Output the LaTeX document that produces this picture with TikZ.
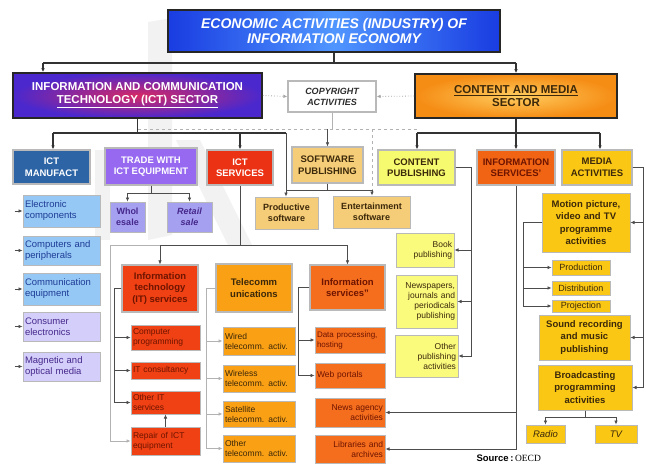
\documentclass[tikz,border=0pt]{standalone}
\usepackage{fontspec}
\setmainfont{Liberation Sans}
\newfontfamily\srcserif{Liberation Serif}
\usepackage{tikz}
\usetikzlibrary{shapes}
\usetikzlibrary{arrows.meta}
\definecolor{titleblue}{RGB}{25,60,225}
\definecolor{titlelight}{RGB}{80,150,255}
\definecolor{ictblue}{RGB}{75,40,205}
\definecolor{ictred}{RGB}{215,40,100}
\definecolor{cmorange}{RGB}{245,140,20}
\definecolor{cmlight}{RGB}{255,205,95}
\definecolor{manufblue}{RGB}{45,100,165}
\definecolor{tradeviolet}{RGB}{150,105,240}
\definecolor{ictsred}{RGB}{235,50,20}
\definecolor{swtan}{RGB}{245,205,120}
\definecolor{cpyellow}{RGB}{245,250,110}
\definecolor{isorange}{RGB}{240,100,20}
\definecolor{mediagold}{RGB}{250,200,20}
\definecolor{lightblue}{RGB}{150,200,245}
\definecolor{lavender}{RGB}{212,207,250}
\definecolor{wholviolet}{RGB}{165,160,240}
\definecolor{itred}{RGB}{240,65,20}
\definecolor{telorange}{RGB}{250,160,20}
\definecolor{isubor}{RGB}{245,110,30}
\definecolor{bookyellow}{RGB}{250,250,125}
\definecolor{darktext}{RGB}{60,40,10}
\definecolor{redtext}{RGB}{110,20,0}
\definecolor{bluetext}{RGB}{30,60,150}
\definecolor{violettext}{RGB}{70,40,140}
\definecolor{boxline}{RGB}{185,185,185}
\tikzset{
    headbox/.style = {draw=black!85, line width=1.6pt, align=center, inner sep=1pt, font=\bfseries\fontsize{11.5}{13}\selectfont},
    catbox/.style = {draw=boxline, line width=1.2pt, align=center, inner sep=1pt, font=\bfseries\fontsize{9.5}{11.5}\selectfont},
    subbox/.style = {draw=boxline, line width=1pt, inner xsep=2pt, inner ysep=1pt, text=darktext, font=\fontsize{8.5}{10}\selectfont},
    wh/.style 2 args = {minimum width=#1pt, minimum height=#2pt},
    tw/.style 2 args = {text width=#1pt, minimum height=#2pt},
    bus/.style = {line width=1.1pt, black!80},
    lnk/.style = {semithick, black!70},
    glnk/.style = {semithick, gray!60},
    arr/.style = {-{Latex[length=4pt,width=3.5pt]}},
    dotlnk/.style = {thick, gray!70, dotted},
    dashlnk/.style = {thick, gray!60, dashed}
}
\begin{document}
\begin{tikzpicture}[x=1pt,y=-1pt]
\useasboundingbox[fill=white] (0,0) rectangle (646,466);
% watermark
\fill[black!5] (148,22) -- (172,18) -- (172,235) -- (148,240) -- cycle;
\fill[black!5] (176,140) -- (200,140) -- (252,245) -- (228,245) -- cycle;
\fill[black!5] (95,150) -- (110,150) -- (110,240) -- (95,240) -- cycle;

% top level
\node[headbox, wh={332}{42}, text=white, font=\bfseries\itshape\fontsize{14}{15}\selectfont,
      left color=titleblue, right color=titleblue, middle color=titlelight] at (334, 31) (title) {ECONOMIC ACTIVITIES (INDUSTRY) OF\\INFORMATION ECONOMY};
\node[headbox, wh={249}{45}, text=white, inner color=ictred, outer color=ictblue] at (137.5, 95.5) (ict) {INFORMATION AND COMMUNICATION\\\underline{TECHNOLOGY (ICT) SECTOR}};
\node[draw=gray!55, line width=1.2pt, fill=white, align=center, wh={88}{31}, text=gray!35!black,
      font=\bfseries\itshape\fontsize{9}{11}\selectfont] at (332, 96.5) (copy) {COPYRIGHT\\ACTIVITIES};
\node[headbox, wh={202}{44}, text=darktext, inner color=cmlight, outer color=cmorange] at (516, 96) (csec) {\underline{CONTENT AND MEDIA}\\SECTOR};

% categories
\node[catbox, wh={77}{34}, fill=manufblue, text=white] at (51.5, 167) (manuf) {ICT\\MANUFACT};
\node[catbox, wh={92}{37}, fill=tradeviolet, text=white] at (151, 166.5) (trade) {TRADE WITH\\ICT EQUIPMENT};
\node[catbox, wh={66}{35}, fill=ictsred, text=white] at (240, 167.5) (icts) {ICT\\SERVICES};
\node[catbox, wh={71}{36}, fill=swtan, text=darktext] at (327.5, 165) (softpub) {SOFTWARE\\PUBLISHING};
\node[catbox, wh={77}{35}, fill=cpyellow, text=darktext] at (416.5, 167.5) (contpub) {CONTENT\\PUBLISHING};
\node[catbox, wh={78}{35}, fill=isorange, text=redtext] at (516, 167.5) (infoserv) {INFORMATION\\SERVICES'};
\node[catbox, wh={70}{35}, fill=mediagold, text=darktext] at (597, 167.5) (media) {MEDIA\\ACTIVITIES};

% trade and software
\node[subbox, tw={31}{30}, fill=wholviolet, text=violettext, align=center, font=\bfseries\fontsize{9}{11}\selectfont] at (127.5, 217) (whol) {Whol\\esale};
\node[subbox, tw={41}{30}, fill=wholviolet, text=violettext, align=center, font=\bfseries\itshape\fontsize{9}{11}\selectfont] at (189.5, 217) (retail) {Retail\\sale};
\node[subbox, tw={59}{32}, fill=swtan, align=center, font=\bfseries\fontsize{9}{11}\selectfont] at (286.5, 213) (prodsw) {Productive\\software};
\node[subbox, tw={73}{32}, fill=swtan, align=center, font=\bfseries\fontsize{9}{11}\selectfont] at (371.5, 212) (entsw) {Entertainment\\software};

% manufacturing
\node[subbox, tw={73}{32}, fill=lightblue, text=bluetext, align=left, font=\fontsize{9.5}{11}\selectfont] at (61.5, 211) (elec) {Electronic\\components};
\node[subbox, tw={73}{29}, fill=lightblue, text=bluetext, align=left, font=\fontsize{9.5}{11}\selectfont] at (61.5, 250.5) (comp) {Computers and\\peripherals};
\node[subbox, tw={73}{32}, fill=lightblue, text=bluetext, align=left, font=\fontsize{9.5}{11}\selectfont] at (61.5, 289) (comm) {Communication\\equipment};
\node[subbox, tw={73}{29}, fill=lavender, text=violettext, align=left, font=\fontsize{9.5}{11}\selectfont] at (61.5, 326.5) (cons) {Consumer\\electronics};
\node[subbox, tw={73}{29}, fill=lavender, text=violettext, align=left, font=\fontsize{9.5}{11}\selectfont] at (61.5, 366.5) (magn) {Magnetic and\\optical media};

% ICT services
\node[catbox, wh={76}{47}, fill=itred, text=redtext, font=\bfseries\fontsize{9.5}{11.5}\selectfont] at (160, 288.5) (itserv) {Information\\technology\\(IT) services};
\node[catbox, wh={76}{48}, fill=telorange, text=darktext, font=\bfseries\fontsize{9.5}{12}\selectfont] at (254, 288) (telecomm) {Telecomm\\unications};
\node[catbox, wh={75}{45}, fill=isubor, text=redtext, font=\bfseries\fontsize{9.5}{11.5}\selectfont] at (347.5, 287.5) (isub) {Information\\services''};

\node[subbox, tw={65}{25}, fill=itred, text=redtext, align=left] at (165.5, 337.5) (prog) {Computer\\programming};
\node[subbox, tw={65}{17}, fill=itred, text=redtext, align=left] at (165.5, 370.5) (itcons) {IT consultancy};
\node[subbox, tw={65}{23}, fill=itred, text=redtext, align=left] at (165.5, 402.5) (otherit) {Other IT\\services};
\node[subbox, tw={65}{28}, fill=itred, text=redtext, align=left] at (165.5, 441) (repair) {Repair of ICT\\equipment};

\node[subbox, tw={68}{28}, fill=telorange, align=left] at (259, 341) (wired) {Wired\\telecomm. activ.};
\node[subbox, tw={68}{27}, fill=telorange, align=left] at (259, 378.5) (wless) {Wireless\\telecomm. activ.};
\node[subbox, tw={68}{26}, fill=telorange, align=left] at (259, 414) (sat) {Satellite\\telecomm. activ.};
\node[subbox, tw={68}{27}, fill=telorange, align=left] at (259, 448.5) (othtel) {Other\\telecomm. activ.};

\node[subbox, tw={66}{26}, fill=isubor, text=redtext, align=left, font=\fontsize{8}{10}\selectfont] at (350, 340) (data) {Data processing,\\hosting};
\node[subbox, tw={66}{25}, fill=isubor, text=redtext, align=left] at (350, 375.5) (web) {Web portals};
\node[subbox, tw={66}{29}, fill=isubor, text=redtext, align=right] at (350, 412.5) (news) {News agency\\activities};
\node[subbox, tw={66}{28}, fill=isubor, text=redtext, align=right] at (350, 449) (lib) {Libraries and\\archives};

% content publishing
\node[subbox, tw={54}{34}, fill=bookyellow, align=right] at (425, 250) (book) {Book\\publishing};
\node[subbox, tw={57}{53}, fill=bookyellow, align=right] at (426.5, 301.5) (newsp) {Newspapers,\\journals and\\periodicals\\publishing};
\node[subbox, tw={59}{42}, fill=bookyellow, align=right] at (426.5, 356) (othpub) {Other\\publishing\\activities};

% media
\node[subbox, tw={84}{59}, fill=mediagold, align=center, font=\bfseries\fontsize{9.5}{12.5}\selectfont] at (586, 222.5) (motion) {Motion picture,\\video and TV\\programme\\activities};
\node[subbox, tw={54}{15}, fill=mediagold, align=center, font=\fontsize{9}{9.5}\selectfont] at (581, 267.5) (prodn) {Production};
\node[subbox, tw={54}{14}, fill=mediagold, align=center, font=\fontsize{9}{9.5}\selectfont] at (581, 288) (distr) {Distribution};
\node[subbox, tw={54}{12}, fill=mediagold, align=center, font=\fontsize{9}{9.5}\selectfont] at (581, 306) (proj) {Projection};
\node[subbox, tw={87}{45}, fill=mediagold, align=center, font=\bfseries\fontsize{9.5}{12.5}\selectfont] at (584.5, 337.5) (sound) {Sound recording\\and music\\publishing};
\node[subbox, tw={90}{45}, fill=mediagold, align=center, font=\bfseries\fontsize{9.5}{12.5}\selectfont] at (585, 387.5) (broad) {Broadcasting\\programming\\activities};
\node[subbox, tw={35}{18}, fill=mediagold, align=center, font=\itshape\fontsize{9.5}{10}\selectfont] at (545.5, 434) (radio) {Radio};
\node[subbox, tw={38}{18}, fill=mediagold, align=center, font=\itshape\fontsize{9.5}{10}\selectfont] at (616, 434) (tv) {TV};

\node[anchor=west, font=\bfseries\fontsize{9.5}{10}\selectfont] at (473, 458) (src) {Source\,:\,{\srcserif\mdseries OECD}};

% top bus
\coordinate (tbl) at (43, 63);
\coordinate (tbr) at (516, 63);
\draw[bus] (title.south) -- (title.south |- tbl);
\draw[bus] (tbl) -- (tbr);
\draw[bus,arr] (tbl) -- (tbl |- ict.north);
\draw[bus,arr] (tbr) -- (csec.north);
\draw[dotlnk,arr] (ict.east) -- (copy.west);
\draw[dotlnk,arr] (csec.west) -- (copy.east);

% ICT sector bus
\coordinate (ibl) at (53, 133);
\coordinate (ibr) at (286, 133);
\coordinate (swl) at (286, 190);
\coordinate (swr) at (372, 190);
\draw[bus] (ict.south) -- (ict.south |- ibl);
\draw[bus] (ibl) -- (ibr);
\draw[bus,arr] (ibl) -- (ibl |- manuf.north);
\draw[bus,arr] (icts.north |- ibl) -- (icts.north);
\draw[lnk] (ibr) -- (swl) -- (swr);
\draw[lnk] (softpub.south) -- (softpub.south |- swl);
\draw[lnk,arr] (swl) -- (swl |- prodsw.north);
\draw[lnk,arr] (swr) -- (swr |- entsw.north);

% copyright bus
\coordinate (cbl) at (138, 129);
\coordinate (cbr) at (417, 129);
\draw[dashlnk] (cbl) -- (cbr);
\draw[glnk] (copy.south) -- (copy.south |- cbl);
\draw[lnk,arr] (softpub.north |- cbl) -- (softpub.north);
\draw[dashlnk] (swr |- cbl) -- (swr);

% content sector bus
\coordinate (mbl) at (417, 133);
\coordinate (mbr) at (600, 133);
\draw[bus] (csec.south) -- (csec.south |- mbl);
\draw[bus] (mbl) -- (mbr);
\draw[bus,arr] (mbl) -- (mbl |- contpub.north);
\draw[bus,arr] (infoserv.north |- mbl) -- (infoserv.north);
\draw[bus,arr] (mbr) -- (mbr |- media.north);

% trade
\draw[lnk] (trade.south) -- ++(0,8) coordinate (tj);
\draw[lnk,arr] (tj) -| (whol.north);
\draw[lnk,arr] (tj) -| (retail.north);

% manufacturing
\foreach \n in {elec,comp,comm,cons,magn}
    \draw[lnk,arr] ([xshift=-8pt]\n.west) -- (\n.west);

% ICT services
\coordinate (sbl) at (160, 245);
\coordinate (sbr) at (347.5, 245);
\coordinate (gl) at (110, 245);
\draw[lnk] (icts.south) -- (icts.south |- sbl);
\draw[lnk] (sbl) -- (sbr);
\draw[lnk,arr] (sbl) -- (itserv.north);
\draw[lnk,arr] (sbr) -- (isub.north);
\draw[glnk,arr] (sbl) -- (gl) |- (repair.west);
\foreach \n in {prog,itcons,otherit}
    \draw[lnk,arr] (itserv.west) -- ++(-7,0) |- (\n.west);
\draw[lnk,arr] (repair.north) -- (otherit.south);
\foreach \n in {wired,wless,sat,othtel}
    \draw[glnk,arr] (telecomm.west) -- ++(-9,0) |- (\n.west);
\foreach \n in {data,web}
    \draw[lnk,arr] (isub.west) -- ++(-11,0) |- (\n.west);
\draw[lnk,arr] (infoserv.south) |- (lib.east);
\draw[lnk,arr] (infoserv.south |- news.east) -- (news.east);

% content publishing
\foreach \n in {book,newsp,othpub}
    \draw[lnk,arr] (contpub.east) -- ++(16,0) |- (\n.east);

% media
\foreach \n in {motion,sound,broad}
    \draw[lnk,arr] (media.east) -- ++(11,0) |- (\n.east);
\foreach \n in {prodn,distr,proj}
    \draw[lnk,arr] (motion.west) -- ++(-18,0) |- (\n.west);
\draw[lnk,arr] (broad.south) -- ++(0,7) -| (radio.north);
\draw[lnk,arr] (broad.south) -- ++(0,7) -| (tv.north);
\end{tikzpicture}
\end{document}
